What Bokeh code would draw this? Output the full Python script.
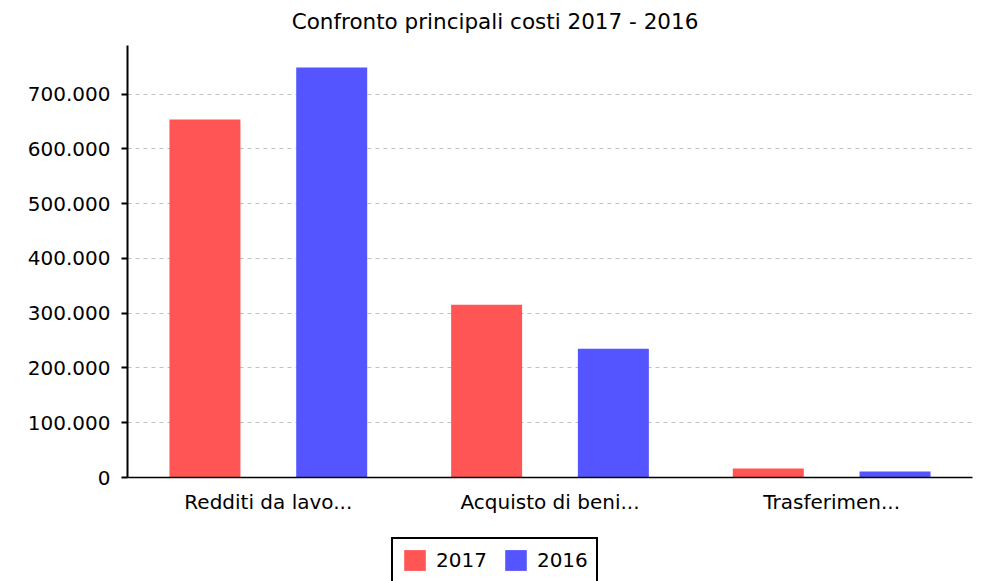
from bokeh.plotting import figure
from bokeh.layouts import column
from bokeh.models import (FactorRange, Range1d, FixedTicker, CustomJSTickFormatter,
                          ColumnDataSource, Legend, LegendItem, Label)
from bokeh.transform import dodge
from bokeh.embed import file_html
from bokeh.resources import INLINE

title_text = "Confronto principali costi 2017 - 2016"
categories = ["Redditi da lavo...", "Acquisto di beni...", "Trasferimen..."]
v2017 = [654000, 315500, 16500]
v2016 = [749000, 235000, 11000]
y_ticks = [0, 100000, 200000, 300000, 400000, 500000, 600000, 700000]
series_names = ["2017", "2016"]
series_colors = ["#FF5555", "#5555FF"]

FONT = "DejaVu Sans"


def strip(h):
    f = figure(x_range=Range1d(0, 1), y_range=Range1d(0, 1), width=984, height=h,
               output_backend="svg", toolbar_location=None,
               min_border_left=0, min_border_right=0, min_border_top=0, min_border_bottom=0)
    f.axis.visible = False
    f.grid.visible = False
    f.outline_line_color = None
    return f


# Title strip
p0 = strip(45)
p0.add_layout(Label(x=367.5, y=24.5, x_units="screen", y_units="screen", text=title_text,
                    text_align="center", text_baseline="middle", text_font=FONT,
                    text_font_size="21.5px", text_color="black"))

src = ColumnDataSource(dict(cat=categories, v2017=v2017, v2016=v2016))

p = figure(x_range=FactorRange(*categories), y_range=Range1d(0, 789000),
           width=984, height=485, output_backend="svg", toolbar_location=None,
           min_border_left=127, min_border_right=12, min_border_top=0,
           min_border_bottom=53)
p.outline_line_color = None
p.background_fill_color = "white"
p.x_range.range_padding = 0

p.vbar(x=dodge("cat", -0.225, range=p.x_range), top="v2017", width=0.252,
       source=src, fill_color=series_colors[0], line_color=None)
p.vbar(x=dodge("cat", 0.225, range=p.x_range), top="v2016", width=0.252,
       source=src, fill_color=series_colors[1], line_color=None)

p.xgrid.grid_line_color = None
p.ygrid.grid_line_color = "#c0c0c0"
p.ygrid.grid_line_dash = "4 4"
p.ygrid.grid_line_width = 1
p.ygrid.ticker = FixedTicker(ticks=y_ticks)

p.yaxis.ticker = FixedTicker(ticks=y_ticks)
p.yaxis.formatter = CustomJSTickFormatter(code="return tick.toFixed(0).replace(/\\B(?=(\\d{3})+(?!\\d))/g, '.');")
p.yaxis.axis_line_width = 2
p.yaxis.axis_line_color = "black"
p.yaxis.major_tick_line_width = 2
p.yaxis.major_tick_line_color = "black"
p.yaxis.major_tick_out = 6
p.yaxis.major_tick_in = 0
p.yaxis.minor_tick_line_color = None
p.yaxis.major_label_text_font = FONT
p.yaxis.major_label_text_font_size = "20px"
p.yaxis.major_label_text_color = "black"
p.yaxis.major_label_standoff = 11

p.xaxis.axis_line_color = "black"
p.xaxis.axis_line_width = 1.5
p.xaxis.major_tick_line_color = None
p.xaxis.minor_tick_line_color = None
p.xaxis.major_label_text_font = FONT
p.xaxis.major_label_text_font_size = "20px"
p.xaxis.major_label_text_color = "black"
p.xaxis.major_label_standoff = 6

# Legend strip below the chart
p2 = strip(51)
swatch_src = ColumnDataSource(dict(x=[-5], top=[-5]))
items = []
for name, col in zip(series_names, series_colors):
    r = p2.vbar(x="x", top="top", width=0.1, source=swatch_src, fill_color=col, line_color=None)
    items.append(LegendItem(label=name, renderers=[r]))

legend = Legend(items=items, orientation="horizontal", location=(264, -2),
                border_line_color="black", border_line_width=2, border_line_alpha=1,
                glyph_width=27, glyph_height=26, label_text_font=FONT,
                label_text_font_size="20px", label_text_color="black",
                label_standoff=8, spacing=15,
                padding=8, margin=0, label_height=24,
                background_fill_color="white", background_fill_alpha=1)
p2.add_layout(legend, "center")

layout = column(p0, p, p2, spacing=0)
open("out.html", "w").write(file_html(layout, INLINE))
